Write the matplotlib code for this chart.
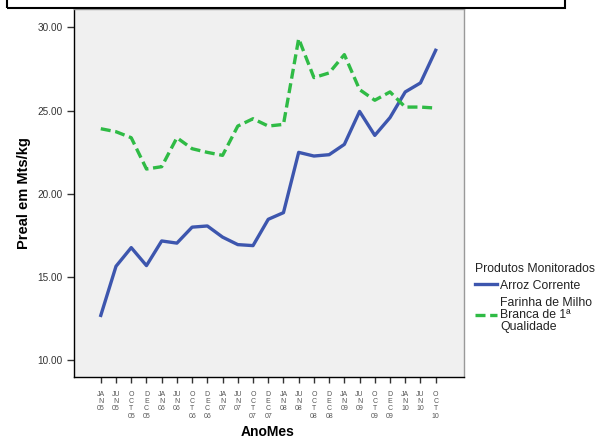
import matplotlib.pyplot as plt
from matplotlib.patches import Rectangle

plt.rcParams["font.family"] = ["Liberation Sans", "DejaVu Sans"]

# dados
meses = ["JA\nN\n05", "JU\nN\n05", "O\nC\nT\n05", "D\nE\nC\n05",
         "JA\nN\n06", "JU\nN\n06", "O\nC\nT\n06", "D\nE\nC\n06",
         "JA\nN\n07", "JU\nN\n07", "O\nC\nT\n07", "D\nE\nC\n07",
         "JA\nN\n08", "JU\nN\n08", "O\nC\nT\n08", "D\nE\nC\n08",
         "JA\nN\n09", "JU\nN\n09", "O\nC\nT\n09", "D\nE\nC\n09",
         "JA\nN\n10", "JU\nN\n10", "O\nC\nT\n10"]
arroz = [12.7, 15.65, 16.77, 15.69, 17.17, 17.04, 18.0, 18.07, 17.4, 16.95,
         16.89, 18.47, 18.87, 22.49, 22.27, 22.35, 22.97, 24.95, 23.51, 24.58,
         26.12, 26.66, 28.62]
farinha = [23.91, 23.73, 23.37, 21.49, 21.63, 23.37, 22.71, 22.49, 22.31, 24.07,
           24.51, 24.07, 24.17, 29.32, 26.98, 27.26, 28.36, 26.26, 25.62, 26.12,
           25.21, 25.21, 25.15]
yticks = [10, 15, 20, 25, 30]

fig = plt.figure(figsize=(6.02, 4.38), dpi=100)
ax = fig.add_axes([74 / 602, 1 - 377 / 438, 390 / 602, 368 / 438])
ax.set_facecolor("#f0f0f0")

x = list(range(len(meses)))
ax.plot(x, arroz, color="#3d56ae", lw=2.4, label="Arroz Corrente")
ax.plot(x, farinha, color="#2fbb45", lw=2.4, dashes=(3.0, 1.4),
        label="Farinha de Milho\nBranca de 1ª\nQualidade")

ax.set_xlim(-1.76, 23.86)
ax.set_ylim(9.0, 31.1)
ax.set_xticks(x)
ax.set_xticklabels(meses, fontsize=5, color="#555555", linespacing=1.05,
                   va="top")
ax.set_yticks(yticks)
ax.set_yticklabels(["%.2f" % v for v in yticks], fontsize=7.2, color="#333333")
ax.tick_params(axis="both", direction="out", width=1, color="#333333")
ax.tick_params(axis="x", length=4, pad=6)
ax.tick_params(axis="y", length=5, pad=3)

for s in ["left", "bottom"]:
    ax.spines[s].set_color("black")
    ax.spines[s].set_linewidth(1)
for s in ["top", "right"]:
    ax.spines[s].set_color("#999999")
    ax.spines[s].set_linewidth(1)

ax.set_ylabel("Preal em Mts/kg", fontsize=10.5, fontweight="bold", labelpad=5)
fig.text(268 / 602, 1 - 425 / 438, "AnoMes", fontsize=10, fontweight="bold",
         ha="center", va="top")

leg = fig.legend(title="Produtos Monitorados", loc="upper left",
                 bbox_to_anchor=(466 / 602, 1 - 254 / 438), frameon=False,
                 fontsize=8.8, title_fontsize=8.8, handlelength=1.85,
                 handletextpad=0.25, labelspacing=0.42, borderpad=0.2)
leg._legend_box.align = "left"
for t in leg.get_texts():
    t.set_linespacing(1.0)
    t.set_color("#222222")
leg.get_title().set_color("#222222")

# caixa do titulo cortada no topo
fig.patches.append(Rectangle((7 / 602, 1 - 8 / 438), 558 / 602, 20 / 438,
                             transform=fig.transFigure, fill=False,
                             edgecolor="black", lw=1.5))

fig.savefig("out.png", dpi=100)
